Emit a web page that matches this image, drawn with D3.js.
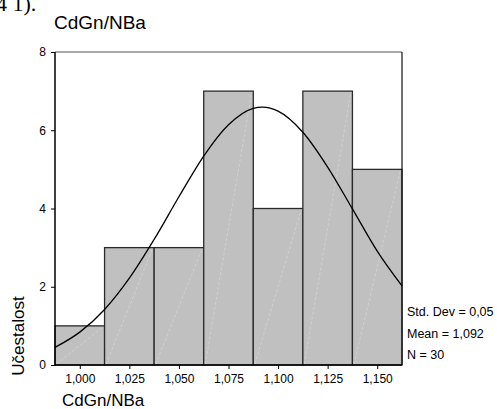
<!DOCTYPE html>
<html>
<head>
<meta charset="utf-8">
<script src="https://cdnjs.cloudflare.com/ajax/libs/d3/7.8.5/d3.min.js"></script>
<style>
  body { margin: 0; background: #fff; }
  svg text { font-family: "Liberation Sans", Arial, sans-serif; fill: #000; }
  .axis path { display: none; }
  .axis line { stroke: #000; }
</style>
</head>
<body>
<div id="chart"></div>
<script>
// histogram data
var binCenters = [1.000, 1.025, 1.050, 1.075, 1.100, 1.125, 1.150];
var counts = [1, 3, 3, 7, 4, 7, 5];
var binStep = 0.025;

var yTicks = [0, 2, 4, 6, 8];
var xTickLabels = ["1,000", "1,025", "1,050", "1,075", "1,100", "1,125", "1,150"];

// fitted normal curve
var curveX = [0.9875, 1.000, 1.0125, 1.025, 1.0375, 1.050, 1.0625, 1.075,
              1.0875, 1.092, 1.100, 1.1125, 1.125, 1.1375, 1.150, 1.1625];
var curveY = [0.45, 0.84, 1.42, 2.22, 3.21, 4.30, 5.34, 6.14,
              6.56, 6.59, 6.49, 5.95, 5.06, 3.99, 2.91, 2.02];

var statLines = ["Std. Dev = 0,05", "Mean = 1,092", "N = 30"];

;(function() {

  var width = 497, height = 409;

  var svg = d3.select('#chart')
    .append('svg')
      .attr('width', width)
      .attr('height', height);

  // plot frame
  var left = 55, right = 402, top = 52, bottom = 365;

  var x = d3.scaleLinear()
    .domain([binCenters[0] - binStep / 2, binCenters[binCenters.length - 1] + binStep / 2])
    .range([left, right]);

  var y = d3.scaleLinear()
    .domain([0, 8])
    .range([bottom, top]);

  // caption of the page above, cut by the crop just like in the source
  svg.append('text')
    .text('4 1).')
    .attr('x', -4)
    .attr('y', 11)
    .style('font-family', '"Liberation Serif", "Times New Roman", serif')
    .style('font-size', '22px');

  // title
  svg.append('text')
    .text('CdGn/NBa')
    .attr('x', 54)
    .attr('y', 29)
    .style('font-size', '19px');

  // bars
  svg.append('g').selectAll('rect')
      .data(counts)
    .enter()
    .append('rect')
      .attr('x', function(d, i) { return x(binCenters[i] - binStep / 2); })
      .attr('y', function(d) { return y(d); })
      .attr('width', function(d, i) {
        return x(binCenters[i] + binStep / 2) - x(binCenters[i] - binStep / 2);
      })
      .attr('height', function(d) { return y(0) - y(d); })
      .style('fill', '#c0c0c0')
      .style('stroke', '#2a2a2a')
      .style('stroke-width', 1.3);

  // faint diagonal streaks inside the bars
  svg.append('g').selectAll('line')
      .data(counts)
    .enter()
    .append('line')
      .attr('x1', function(d, i) { return x(binCenters[i] - binStep / 2) + 1.5; })
      .attr('y1', y(0) - 1)
      .attr('x2', function(d, i) { return x(binCenters[i] + binStep / 2) - 1.5; })
      .attr('y2', function(d) { return y(d) + 1; })
      .style('stroke', '#dcdcdc')
      .style('stroke-width', 0.6)
      .style('stroke-dasharray', '3,2');

  // frame: top and right, axes in black
  svg.append('line')
    .attr('x1', left).attr('x2', right)
    .attr('y1', top).attr('y2', top)
    .style('stroke', '#555').style('stroke-width', 1.2);
  svg.append('line')
    .attr('x1', right).attr('x2', right)
    .attr('y1', top).attr('y2', bottom)
    .style('stroke', '#111').style('stroke-width', 1.2);
  svg.append('line')
    .attr('x1', left).attr('x2', left)
    .attr('y1', top).attr('y2', bottom + 1)
    .style('stroke', '#000').style('stroke-width', 1.5);
  svg.append('line')
    .attr('x1', left).attr('x2', right)
    .attr('y1', bottom).attr('y2', bottom)
    .style('stroke', '#000').style('stroke-width', 1.5);

  // normal curve
  var line = d3.line()
    .x(function(d, i) { return x(curveX[i]); })
    .y(function(d) { return y(d); })
    .curve(d3.curveMonotoneX);

  svg.append('path')
    .datum(curveY)
    .attr('d', line)
    .style('fill', 'none')
    .style('stroke', '#000')
    .style('stroke-width', 1.3);

  // y axis
  var yAxis = svg.append('g')
    .attr('class', 'axis')
    .attr('transform', 'translate(' + left + ',0)')
    .call(d3.axisLeft(y).tickValues(yTicks).tickSize(4).tickPadding(5)
          .tickFormat(d3.format('d')));
  yAxis.selectAll('text').style('font-size', '12px').style('font-family', null);

  // x axis
  var xAxis = svg.append('g')
    .attr('class', 'axis')
    .attr('transform', 'translate(0,' + bottom + ')')
    .call(d3.axisBottom(x).tickValues(binCenters).tickSize(4).tickPadding(5)
          .tickFormat(function(d, i) { return xTickLabels[i]; }));
  xAxis.selectAll('text').style('font-size', '12px').style('font-family', null);

  // axis titles
  svg.append('text')
    .text('Učestalost')
    .attr('transform', 'translate(24,336) rotate(-90)')
    .attr('text-anchor', 'middle')
    .style('font-size', '17px');

  svg.append('text')
    .text('CdGn/NBa')
    .attr('x', 62)
    .attr('y', 406)
    .style('font-size', '17px');

  // summary statistics
  svg.append('g').selectAll('text')
      .data(statLines)
    .enter()
    .append('text')
      .text(function(d) { return d; })
      .attr('x', 407)
      .attr('y', function(d, i) { return 316 + i * 21.7; })
      .style('font-size', '12.5px');

})();
</script>
</body>
</html>
